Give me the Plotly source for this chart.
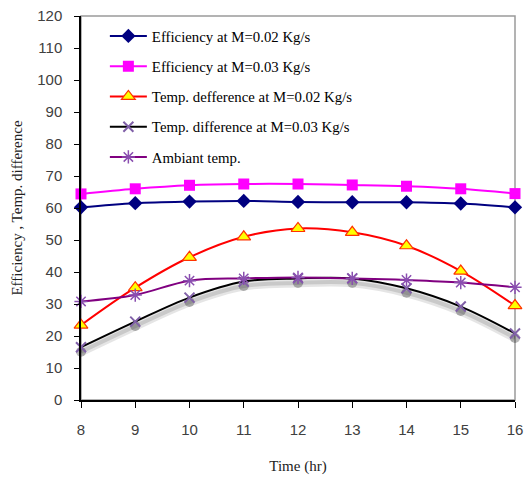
import plotly.graph_objects as go

hours = [8, 9, 10, 11, 12, 13, 14, 15, 16]
eff_002 = [60.2, 61.5, 62.0, 62.2, 61.9, 61.8, 61.8, 61.4, 60.2]
eff_003 = [64.4, 66.0, 67.1, 67.5, 67.5, 67.2, 66.8, 66.0, 64.5]
dt_002 = [23.4, 35.1, 44.6, 51.0, 53.6, 52.4, 48.2, 40.3, 29.5]
dt_003 = [16.5, 24.5, 32.0, 37.0, 38.0, 38.0, 34.9, 29.2, 20.8]
ambient = [30.8, 32.8, 37.3, 38.0, 38.3, 38.0, 37.5, 36.7, 35.2]

names = ["Efficiency at M=0.02 Kg/s", "Efficiency at M=0.03 Kg/s",
         "Temp. defference at M=0.02 Kg/s", "Temp. difference at M=0.03 Kg/s",
         "Ambiant temp."]

SERIF = "Liberation Serif"
SANS = "Liberation Sans"

fig = go.Figure()

# soft shadow under the black curve
fig.add_trace(go.Scatter(
    x=hours, y=[v - 1.4 for v in dt_003], mode="lines",
    line=dict(color="rgba(0,0,0,0.10)", width=9, shape="spline"),
    showlegend=False, hoverinfo="skip", cliponaxis=False))
fig.add_trace(go.Scatter(
    x=hours, y=[v - 1.4 for v in dt_003], mode="lines+markers",
    line=dict(color="rgba(0,0,0,0.12)", width=4, shape="spline"),
    marker=dict(symbol="circle", size=10, color="rgba(0,0,0,0.28)"),
    showlegend=False, hoverinfo="skip", cliponaxis=False))

fig.add_trace(go.Scatter(
    x=hours, y=eff_002, name=names[0], mode="lines+markers", legendgroup="a",
    line=dict(color="#000080", width=2, shape="spline"),
    marker=dict(symbol="diamond", size=11, color="#000080"), cliponaxis=False))
fig.add_trace(go.Scatter(
    x=hours, y=eff_003, name=names[1], mode="lines+markers", legendgroup="b",
    line=dict(color="#FF00FF", width=2, shape="spline"),
    marker=dict(symbol="square", size=11, color="#FF00FF"), cliponaxis=False))
fig.add_trace(go.Scatter(
    x=hours, y=dt_002, name=names[2], mode="lines+markers", legendgroup="c",
    line=dict(color="#FF0000", width=2, shape="spline"),
    marker=dict(symbol="triangle-up", size=12, color="#FFFF00",
                line=dict(color="#FF3300", width=1.2)), cliponaxis=False))
fig.add_trace(go.Scatter(
    x=hours, y=dt_003, name=names[3], mode="lines+markers", legendgroup="d",
    line=dict(color="#000000", width=2, shape="spline"),
    marker=dict(symbol="x-thin-open", size=10, color="#8060A8",
                line=dict(color="#8060A8", width=2)), cliponaxis=False))
fig.add_trace(go.Scatter(
    x=hours, y=ambient, name=names[4], mode="lines+markers", legendgroup="e",
    line=dict(color="#800080", width=2, shape="spline"),
    marker=dict(symbol="asterisk-open", size=11, color="#8A4FB0",
                line=dict(color="#8A4FB0", width=1.5)), cliponaxis=False))

fig.add_shape(type="rect", xref="paper", yref="paper", x0=0, y0=0, x1=1, y1=1,
              line=dict(color="#9a9a9a", width=1.5), layer="below")

fig.update_layout(
    width=524, height=477,
    margin=dict(l=81, r=9, t=16, b=77),
    paper_bgcolor="white", plot_bgcolor="white",
    font=dict(family=SERIF, size=15, color="#222222"),
    legend=dict(x=0.055, y=0.99, xanchor="left", yanchor="top",
                bgcolor="rgba(0,0,0,0)", itemwidth=37,
                font=dict(family=SERIF, size=14.8, color="#000000"),
                tracegroupgap=8, traceorder="grouped"),
    xaxis=dict(range=[8, 16], tickmode="array", tickvals=hours,
               showgrid=False, zeroline=False, showline=True,
               linecolor="#000000", linewidth=1.5, ticks="outside",
               ticklen=6, tickcolor="#000000", ticklabelstandoff=9,
               automargin=False,
               tickfont=dict(family=SANS, size=15, color="#404040"),
               title=dict(text="Time (hr)", font=dict(family=SERIF, size=15),
                          standoff=24)),
    yaxis=dict(range=[0, 120], dtick=10, showgrid=False, zeroline=False,
               showline=True, linecolor="#000000", linewidth=1.5,
               ticks="outside", ticklen=5, tickcolor="#000000",
               ticklabelstandoff=9, automargin=False,
               tickfont=dict(family=SANS, size=15, color="#404040"),
               title=dict(text="Efficiency , Temp. difference",
                          font=dict(family=SERIF, size=15), standoff=11)),
)

fig.write_html("out.html")
